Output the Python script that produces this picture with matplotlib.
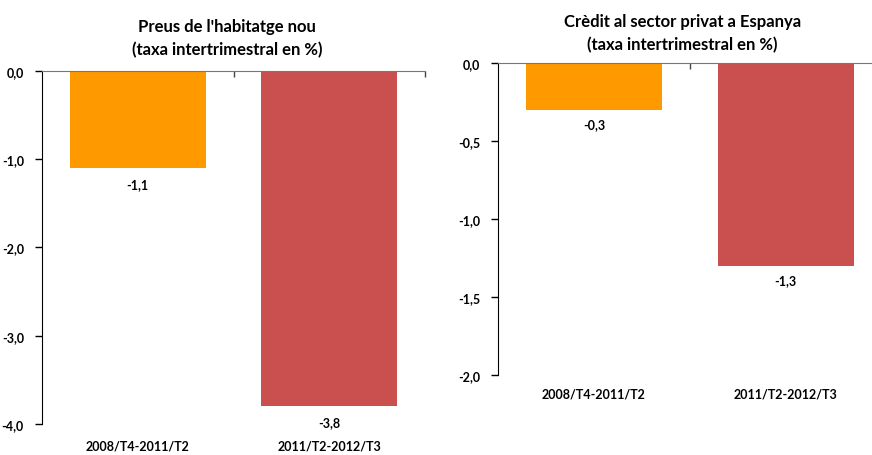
import matplotlib.pyplot as plt
from matplotlib.transforms import blended_transform_factory

plt.rcParams['font.family'] = ['Lato', 'DejaVu Sans']
plt.rcParams['font.weight'] = 'bold'

periods = ['2008/T4-2011/T2', '2011/T2-2012/T3']
colors = ['#FF9900', '#C9504F']

habitatge = [-1.1, -3.8]
credit = [-0.3, -1.3]

titles = ["Preus de l'habitatge nou\n(taxa intertrimestral en %)",
          "Crèdit al sector privat a Espanya\n(taxa intertrimestral en %)"]
y_limits = [(-4.0, 0.0), (-2.0, 0.0)]
y_steps = [1.0, 0.5]

fig = plt.figure(figsize=(8.72, 4.56), dpi=100)
ax1 = fig.add_axes([0.0482, 0.068, 0.4392, 0.7741])
ax2 = fig.add_axes([0.5711, 0.1754, 0.4398, 0.6842])


def fmt(v):
    return f'{v:.1f}'.replace('.', ',')


def draw(ax, values, title, ylim, step, title_pad, label_off, cat_y):
    x = range(len(values))
    ax.bar(x, values, width=0.71, color=colors)
    ax.set_xlim(-0.5, len(values) - 0.5)
    ax.set_ylim(*ylim)
    n = int(round((ylim[1] - ylim[0]) / step))
    ticks = [ylim[0] + i * step for i in range(n + 1)]
    ax.set_yticks(ticks)
    ax.set_yticklabels([fmt(t) for t in ticks])
    for lbl in ax.get_yticklabels():
        lbl.set_fontweight('bold')
        lbl.set_fontsize(9)
    ax.tick_params(axis='y', direction='out', length=5, width=1, pad=8)

    # axis line at zero, with small ticks between the categories
    ax.xaxis.tick_top()
    ax.set_xticks([0.5, 1.5])
    ax.set_xticklabels([])
    ax.tick_params(axis='x', direction='in', length=4, width=1,
                   color='#444444')
    for s in ['right', 'bottom']:
        ax.spines[s].set_visible(False)
    ax.spines['top'].set_color('#777777')

    for i, v in enumerate(values):
        ax.text(i, v - label_off, fmt(v), ha='center', va='top',
                fontsize=9, fontweight='bold')

    trans = blended_transform_factory(ax.transData, ax.transAxes)
    for i, p in enumerate(periods):
        ax.text(i, cat_y, p, transform=trans,
                ha='center', va='center', fontsize=9, fontweight='bold')

    ax.set_title(title, fontsize=12, fontweight='bold', pad=title_pad,
                 linespacing=1.5)


draw(ax1, habitatge, titles[0], y_limits[0], y_steps[0], 12, 0.11, -0.06)
draw(ax2, credit, titles[1], y_limits[1], y_steps[1], 10, 0.05, -0.058)
# titles sit slightly left of the panel centre
ax1.title.set_position((0.483, 1.0))
ax2.title.set_position((0.48, 1.0))

fig.savefig('out.png', dpi=100)
